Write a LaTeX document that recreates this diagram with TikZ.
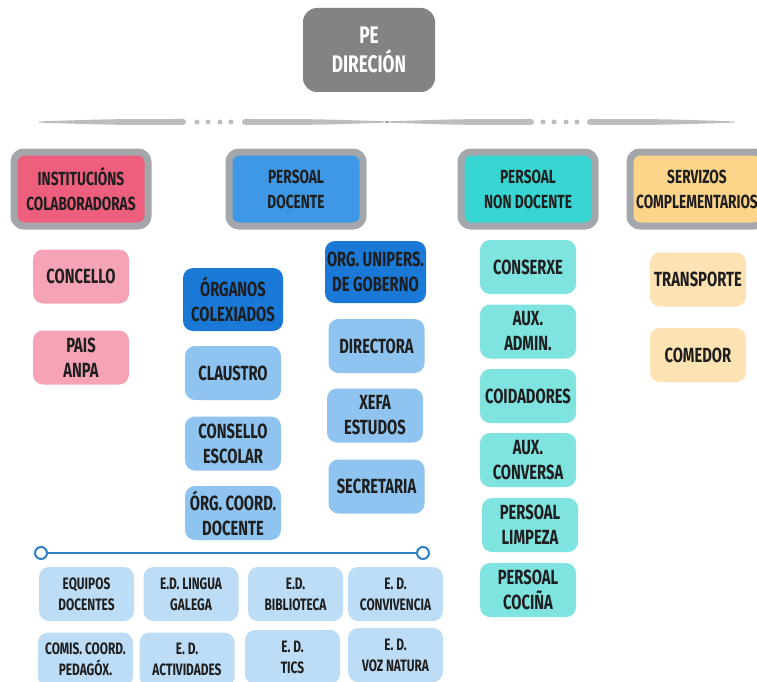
\documentclass[tikz,border=0pt]{standalone}
\usepackage{fontspec}
\setmainfont{Fira Sans}[FakeStretch=0.72]
\usepackage{tikz}

\definecolor{pegray}{HTML}{828384}
\definecolor{framegray}{HTML}{A3A7AB}
\definecolor{instred}{HTML}{EE5F7D}
\definecolor{docblue}{HTML}{3E98E6}
\definecolor{nondocteal}{HTML}{38D6D2}
\definecolor{servyellow}{HTML}{FCD48A}
\definecolor{pinklight}{HTML}{F6A3B6}
\definecolor{darkblue}{HTML}{1A78D6}
\definecolor{midblue}{HTML}{8EC4EF}
\definecolor{lightblue}{HTML}{BDDCF5}
\definecolor{teallight}{HTML}{7FE4E0}
\definecolor{peach}{HTML}{FDE2B3}
\definecolor{sepgray}{HTML}{BDBDBD}
\definecolor{lineblue}{HTML}{2F7FC8}
\definecolor{ink}{HTML}{1E1E1E}

\begin{document}
\begin{tikzpicture}[x=1pt,y=-1pt,text=ink]
  \tikzstyle{box}=[rounded corners=10pt,align=center,inner sep=0pt,
                   minimum width=96pt,minimum height=54pt,
                   font=\fontsize{20.5}{25}\selectfont\bfseries]
  \tikzstyle{head}=[box,draw=framegray,line width=7pt,minimum width=134pt,
                    minimum height=74pt,font=\fontsize{19}{25}\selectfont\bfseries]
  \tikzstyle{small}=[box,fill=lightblue,minimum width=95pt,
                     font=\fontsize{16.5}{21}\selectfont\bfseries]
  \tikzstyle{knob}=[circle,draw=lineblue,fill=white,line width=2pt,
                    inner sep=0pt,minimum size=12pt]

  \clip (0,0) rectangle (757,682);
  \fill[white] (0,0) rectangle (757,682);

  % top
  \node[box,fill=pegray,text=white,minimum width=132pt,minimum height=84pt,
        rounded corners=14pt,font=\fontsize{24}{29}\selectfont\bfseries]
        (pe) at (369,50) {PE\\DIRECIÓN};

  % separator (thin end / thick end / side)
  \foreach \t/\k/\s in {39/186/1,387/242/-1,387/534/1,734/587/-1}
    \fill[sepgray] (\t,121.4) .. controls ({\t+0.5*(\k-\t)},119) .. ({\k-3*\s},119)
                   .. controls ({\k+\s},119) and ({\k+\s},125) .. ({\k-3*\s},125)
                   .. controls ({\t+0.5*(\k-\t)},125) .. (\t,122.6) -- cycle;
  \foreach \x in {197,208,220,231,543,554,566,577}
    \fill[sepgray] (\x,122) circle (2.5pt);
  \fill[gray!80!black] (387,122) circle (1pt);

  % categories
  \node[head,fill=instred]    (inst)   at (81,189)  {INSTITUCIÓNS\\COLABORADORAS};
  \node[head,fill=docblue]    (doc)    at (296,189) {PERSOAL\\DOCENTE};
  \node[head,fill=nondocteal] (nondoc) at (528,189) {PERSOAL\\NON DOCENTE};
  \node[head,fill=servyellow] (serv)   at (697,189) {SERVIZOS\\COMPLEMENTARIOS};

  % institucions
  \node[box,fill=pinklight] (concello) at (81,276.5) {CONCELLO};
  \node[box,fill=pinklight] (pais)     at (81,357.5) {PAIS\\ANPA};

  % persoal docente
  \node[box,fill=darkblue,minimum width=100pt,minimum height=63pt] (orgcol) at (233,299.5) {ÓRGANOS\\COLEXIADOS};
  \node[box,fill=midblue] (claustro) at (233,373)   {CLAUSTRO};
  \node[box,fill=midblue] (consello) at (233,443.5) {CONSELLO\\ESCOLAR};
  \node[box,fill=midblue] (orgcoord) at (233,513)   {ÓRG. COORD.\\DOCENTE};
  \node[box,fill=darkblue,minimum width=101pt,minimum height=62pt] (unipers) at (375.5,272) {ORG. UNIPERS.\\DE GOBERNO};
  \node[box,fill=midblue] (directora)  at (376.5,346)   {DIRECTORA};
  \node[box,fill=midblue] (xefa)       at (375,415.5)   {XEFA\\ESTUDOS};
  \node[box,fill=midblue] (secretaria) at (376.5,486.5) {SECRETARIA};

  % persoal non docente
  \node[box,fill=teallight] (conserxe)   at (528,267)   {CONSERXE};
  \node[box,fill=teallight] (auxadmin)   at (528,331.5) {AUX.\\ADMIN.};
  \node[box,fill=teallight] (coidadores) at (528,396)   {COIDADORES};
  \node[box,fill=teallight] (auxconv)    at (528,460)   {AUX.\\CONVERSA};
  \node[box,fill=teallight] (limpeza)    at (530,525)   {PERSOAL\\LIMPEZA};
  \node[box,fill=teallight] (cocina)     at (528,590)   {PERSOAL\\COCIÑA};

  % servizos
  \node[box,fill=peach] (transporte) at (698,279.5) {TRANSPORTE};
  \node[box,fill=peach] (comedor)    at (698,355)   {COMEDOR};

  % equipos
  \node[knob] (kl) at (41,553) {};
  \node[knob] (kr) at (423,553) {};
  \draw[lineblue,line width=2pt] (kl) -- (kr);

  \node[small] (equipos)  at (86.5,594)  {EQUIPOS\\DOCENTES};
  \node[small] (lingua)   at (191,594)   {E.D. LINGUA\\GALEGA};
  \node[small] (biblio)   at (295.5,594) {E.D.\\BIBLIOTECA};
  \node[small] (conviv)   at (395.5,594) {E. D.\\CONVIVENCIA};
  \node[small] (comis)    at (85.5,659.5) {COMIS. COORD.\\PEDAGÓX.};
  \node[small] (activ)    at (187,659.5)  {E. D.\\ACTIVIDADES};
  \node[small] (tics)     at (292.5,657)  {E. D.\\TICS};
  \node[small] (voz)      at (395.5,655)  {E. D.\\VOZ NATURA};
\end{tikzpicture}
\end{document}
